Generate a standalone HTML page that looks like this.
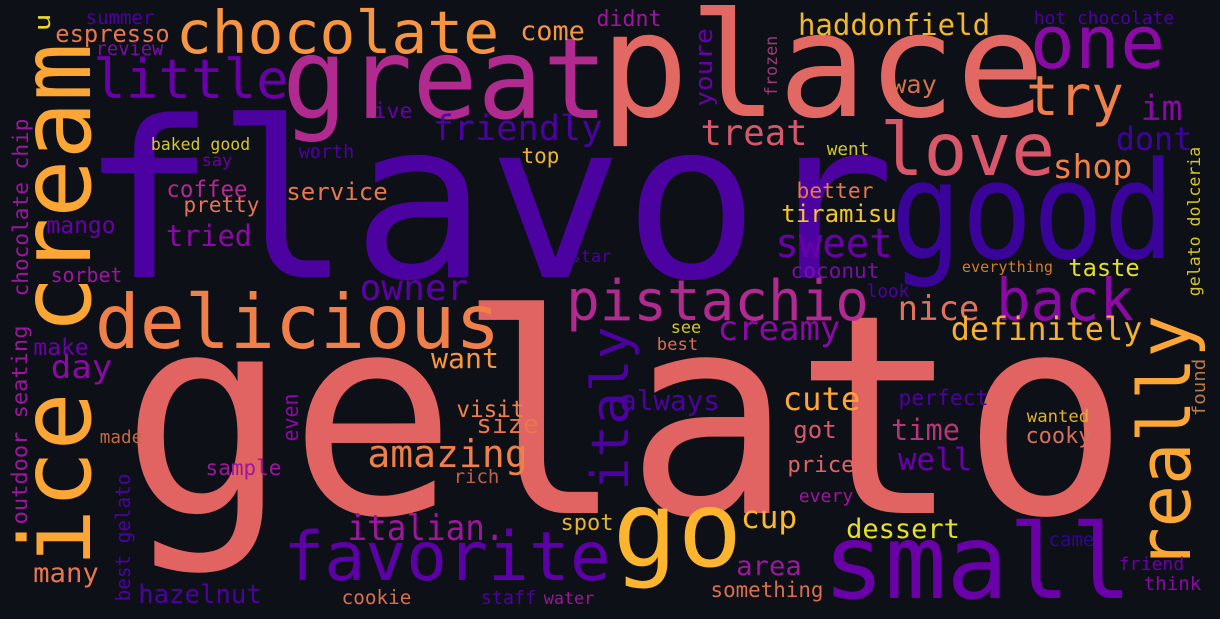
<!DOCTYPE html>
<html><head><meta charset="utf-8"><style>
html,body{margin:0;padding:0;background:#0d1017;}
svg{display:block;}
text{font-family:"DejaVu Sans Mono","Liberation Mono",monospace;}
</style></head><body>
<svg id="cloud" width="1220" height="619" viewBox="0 0 1220 619" xmlns="http://www.w3.org/2000/svg">
<rect x="0" y="0" width="1220" height="619" fill="#0d1017"/>
</svg>
<script>
// word data: words, their font sizes (weight), colors
const words = ["gelato","flavor","place","good","great","small","ice cream","delicious","go","favorite","love","one","really","chocolate","back","pistachio","try","little","italy","amazing","sweet","owner","italian.","friendly","treat","creamy","dont","im","shop","cute","nice","definitely","well","want","day","dessert","time","cup","haddonfield","come","tried","always","hazelnut","many","size","area","got","taste","tiramisu","service","espresso","coffee","mango","make","visit","price","cooky","didnt","spot","pretty","something","way","youre","sorbet","perfect","sample","coconut","better","even","top","cookie","chocolate chip","outdoor seating","best gelato","u","summer","review","ive","worth","baked good","say","star","see","best","rich","made","staff","water","everything","hot chocolate","gelato dolceria","went","look","wanted","found","every","came","friend","think","frozen"];
const sizes = [278,218,145,135,112,103,98,75,105,68,73,74,72,59,58,56,55,54,52,38,40,36,36,35,36,34,32,35,33,32,34,32,31,28,32,27,29,31,29,27,29,28,26,27,26,27,24,24,24,24,24,23,23,23,23,22,22,22,22,21,21,25,24,20,21,21,21,21,22,21,19.5,21,21,20,22,19,19,21,18.6,16.5,17,17,17,17,19,18,18.6,17,15,18,17,18,18,17,18,18,19,18,19,17];
const colors = ["#e16462","#4c02a1","#e26863","#3a049a","#b12a90","#6a00a8","#fca636","#f0804a","#fdb42f","#5c01a6","#d8576b","#8b0aa5","#fca636","#f89540","#8b0aa5","#b12a90","#f0804a","#6a00a8","#4c02a1","#f0804a","#6a00a8","#5c01a6","#9c179e","#4c02a1","#d8576b","#8b0aa5","#3d049b","#8b0aa5","#f0804a","#fca636","#e3715a","#f5b12f","#6a00a8","#f89540","#8b0aa5","#e5e12b","#b5367a","#fcb92a","#f2b72b","#f89540","#8b0aa5","#4c02a1","#4c02a1","#e8764f","#e8764f","#9c179e","#d8576b","#e3df2f","#f2c62c","#e8764f","#e8764f","#b12a90","#6a00a8","#6a00a8","#f0804a","#e16462","#d5705a","#9c179e","#e8b42c","#e97158","#d8704f","#d5704c","#6a00a8","#9c179e","#4c02a1","#9c179e","#7a0fa6","#e8764f","#8b0aa5","#f0b62b","#d8704f","#9c179e","#9c179e","#4c02a1","#e6d929","#4c02a1","#7a0fa6","#6a00a8","#4c02a1","#d5c72b","#6a00a8","#4c02a1","#d5c72b","#d8704f","#c25f4a","#c9693f","#4c02a1","#9c179e","#ce7d2e","#4c02a1","#d5c72b","#d5c72b","#4c02a1","#e0b22a","#b8794b","#9c179e","#2f0596","#6a00a8","#8b0aa5","#9c3a78"];
// layout (presentation): [inkStart, inkEnd, baseline, vertical(0/1)]
const layout = [[140,1110,513,0],[95,880,277,0],[610,1035,116,0],[900,1165,258,0],[290,600,118,0],[830,1125,598,0],[50,560,90,1],[100,495,348,0],[620,735,566,0],[288,606,580,0],[885,1050,175,0],[1035,1160,68,0],[320,565,1190,1],[180,495,53,0],[1000,1130,320,0],[570,865,320,0],[1030,1120,115,0],[97,285,98,0],[330,487,628,1],[370,525,467,0],[778,890,257,0],[362,466,300,0],[350,502,540,0],[435,600,140,0],[703,805,145,0],[720,838,340,0],[1118,1190,150,0],[1143,1180,120,0],[1055,1130,178,0],[785,858,410,0],[900,977,320,0],[953,1140,340,0],[900,970,470,0],[433,497,368,0],[53,110,378,0],[848,958,538,0],[893,958,440,0],[743,795,528,0],[800,988,35,0],[522,583,40,0],[168,250,246,0],[622,718,410,0],[140,260,603,0],[35,97,582,0],[478,537,433,0],[738,800,575,0],[795,835,438,0],[1070,1138,276,0],[783,895,222,0],[288,386,200,0],[57,168,42,0],[168,246,197,0],[48,114,233,0],[35,87,355,0],[458,523,417,0],[789,853,472,0],[1027,1090,443,0],[598,660,26,0],[562,612,530,0],[185,258,212,0],[712,822,597,0],[893,935,93,0],[30,105,712,1],[52,121,282,0],[900,987,405,0],[207,280,475,0],[792,878,278,0],[798,872,198,0],[395,440,298,1],[523,558,163,0],[343,410,604,0],[120,295,28,1],[327,523,27,1],[475,600,130,1],[15,30,50,1],[87,153,24,0],[97,162,55,0],[375,411,118,0],[300,353,158,0],[152,249,150,0],[203,231,166,0],[572,610,262,0],[672,700,333,0],[658,697,350,0],[455,498,483,0],[101,141,443,0],[482,535,604,0],[545,593,604,0],[963,1052,272,0],[1035,1173,24,0],[148,295,1200,1],[828,868,155,0],[868,908,297,0],[1028,1088,422,0],[360,415,1205,1],[800,852,502,0],[1050,1093,546,0],[1120,1183,570,0],[1145,1200,590,0],[37,95,777,1]];

const svg = document.getElementById('cloud');
const NS = 'http://www.w3.org/2000/svg';
for (let i = 0; i < words.length; i++) {
  const fs = sizes[i];
  const [a, b, base, vert] = layout[i];
  const t = document.createElementNS(NS, 'text');
  t.textContent = words[i];
  t.setAttribute('font-size', fs);
  t.setAttribute('fill', colors[i]);
  t.setAttribute('text-anchor', 'middle');
  const len = (b - a) + 0.14 * fs;
  t.setAttribute('textLength', len.toFixed(1));
  t.setAttribute('lengthAdjust', 'spacingAndGlyphs');
  const c = (a + b) / 2;
  if (vert) {
    t.setAttribute('x', 0);
    t.setAttribute('y', 0);
    t.setAttribute('transform', 'translate(' + base + ',' + c + ') rotate(-90)');
  } else {
    t.setAttribute('x', c);
    t.setAttribute('y', base);
  }
  
  
  svg.appendChild(t);
}
</script>
</body></html>
